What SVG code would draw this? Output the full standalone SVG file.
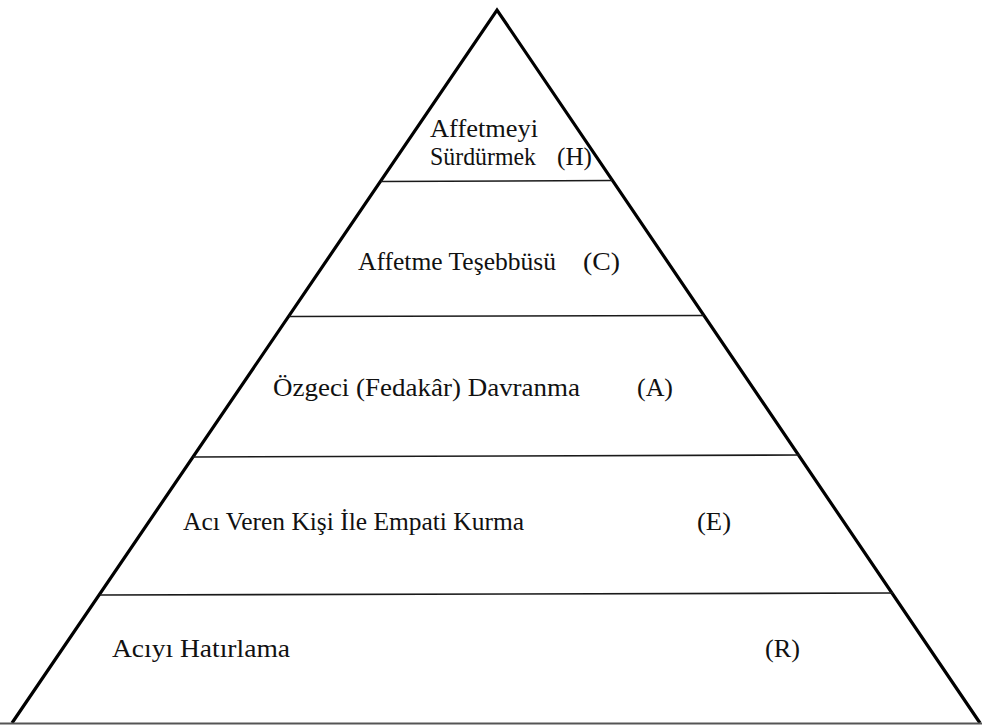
<svg xmlns="http://www.w3.org/2000/svg" width="982" height="726" viewBox="0 0 982 726">
  <style>
    .side { fill: none; stroke: #000; stroke-width: 3.2; stroke-linejoin: miter; }
    .tier { stroke: #1a1a1a; stroke-width: 1.6; }
    .base { stroke: #555; stroke-width: 2; }
    .lbl { font-family: "Liberation Serif", "Times New Roman", serif; font-size: 26px; fill: #111; }
  </style>
  <rect width="982" height="726" fill="#fff"/>

  <!-- pyramid outline and tier dividers -->
  <g id="connectors">
    <polyline class="side" points="12,723 497,10 980,723"/>
    <line class="base" x1="0" y1="723.5" x2="982" y2="723.5"/>
    <line class="tier" x1="381" y1="181.5" x2="612" y2="180.5"/>
    <line class="tier" x1="289" y1="316.5" x2="704" y2="315.5"/>
    <line class="tier" x1="193" y1="457" x2="800" y2="455"/>
    <line class="tier" x1="100" y1="595" x2="893" y2="593"/>
  </g>

  <!-- tiers, top to bottom -->
  <g id="tier-h">
    <text class="lbl" x="430" y="137" textLength="108" lengthAdjust="spacingAndGlyphs">Affetmeyi</text>
    <text class="lbl" x="430" y="165" textLength="106" lengthAdjust="spacingAndGlyphs">Sürdürmek</text>
    <text class="lbl" x="557" y="165" textLength="35" lengthAdjust="spacingAndGlyphs">(H)</text>
  </g>
  <g id="tier-c">
    <text class="lbl" x="358" y="270" textLength="198" lengthAdjust="spacingAndGlyphs">Affetme Teşebbüsü</text>
    <text class="lbl" x="583" y="270" textLength="37" lengthAdjust="spacingAndGlyphs">(C)</text>
  </g>
  <g id="tier-a">
    <text class="lbl" x="273" y="396" textLength="307" lengthAdjust="spacingAndGlyphs">Özgeci (Fedakâr) Davranma</text>
    <text class="lbl" x="637" y="396" textLength="36" lengthAdjust="spacingAndGlyphs">(A)</text>
  </g>
  <g id="tier-e">
    <text class="lbl" x="183" y="530" textLength="341" lengthAdjust="spacingAndGlyphs">Acı Veren Kişi İle Empati Kurma</text>
    <text class="lbl" x="697" y="530" textLength="34" lengthAdjust="spacingAndGlyphs">(E)</text>
  </g>
  <g id="tier-r">
    <text class="lbl" x="112" y="657" textLength="178" lengthAdjust="spacingAndGlyphs">Acıyı Hatırlama</text>
    <text class="lbl" x="765" y="657" textLength="35" lengthAdjust="spacingAndGlyphs">(R)</text>
  </g>
</svg>
